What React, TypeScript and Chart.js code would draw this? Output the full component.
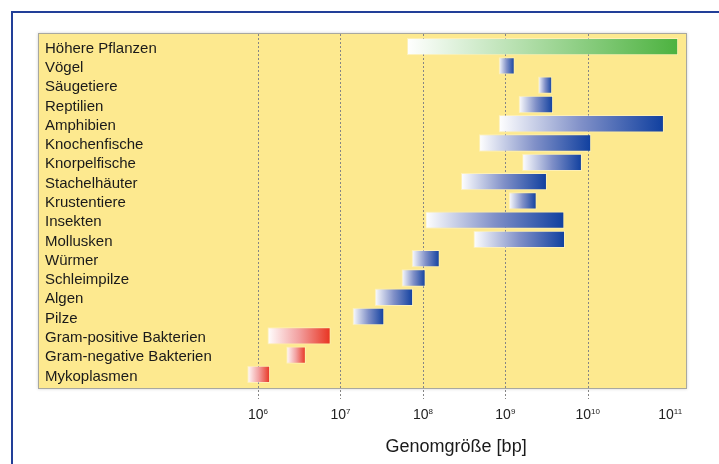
import React, { useEffect, useRef } from 'react';
import { Chart, registerables } from 'chart.js';

Chart.register(...registerables);

const categories = [
  'Höhere Pflanzen',
  'Vögel',
  'Säugetiere',
  'Reptilien',
  'Amphibien',
  'Knochenfische',
  'Knorpelfische',
  'Stachelhäuter',
  'Krustentiere',
  'Insekten',
  'Mollusken',
  'Würmer',
  'Schleimpilze',
  'Algen',
  'Pilze',
  'Gram-positive Bakterien',
  'Gram-negative Bakterien',
  'Mykoplasmen',
];

const rangeStart = [
  6.4e7, 8.3e8, 2.5e9, 1.45e9, 8.3e8, 4.8e8, 1.6e9, 2.9e8, 1.1e9,
  1.07e8, 4.1e8, 7.3e7, 5.5e7, 2.6e7, 1.4e7, 1.3e6, 2.2e6, 7.4e5,
];

const rangeEnd = [
  1.25e11, 1.3e9, 3.7e9, 3.8e9, 8.4e10, 1.1e10, 8.5e9, 3.2e9, 2.4e9,
  5.2e9, 5.3e9, 1.6e8, 1.08e8, 7.6e7, 3.4e7, 7.6e6, 3.8e6, 1.4e6,
];

const groups = [
  'plant', 'animal', 'animal', 'animal', 'animal', 'animal', 'animal', 'animal', 'animal',
  'animal', 'animal', 'animal', 'animal', 'animal', 'animal', 'bacteria', 'bacteria', 'bacteria',
];

const groupColors: Record<string, string> = {
  plant: '#4cb23f',
  animal: '#0f3f9f',
  bacteria: '#e8321f',
};

const groupMidColors: Record<string, string> = {
  plant: '#a6d99d',
  animal: '#8090c8',
  bacteria: '#f2a0a0',
};

const tickValues = [1e6, 1e7, 1e8, 1e9, 1e10, 1e11];
const tickExponents = ['6', '7', '8', '9', '10', '11'];
const gridValues = [1e6, 1e7, 1e8, 1e9, 1e10];
const axisMin = 2140;
const axisMax = 1.6e11;
const axisTitle = 'Genomgröße [bp]';

const FONT = '"Liberation Sans", Arial, Helvetica, sans-serif';

const decorPlugin = {
  id: 'decor',
  beforeDraw(chart: any) {
    const { ctx, chartArea, width, height } = chart;
    ctx.save();
    ctx.fillStyle = '#ffffff';
    ctx.fillRect(0, 0, width, height);
    // blue frame (top and left)
    ctx.strokeStyle = '#223f98';
    ctx.lineWidth = 2;
    ctx.beginPath();
    ctx.moveTo(width, 12);
    ctx.lineTo(12, 12);
    ctx.lineTo(12, height);
    ctx.stroke();
    // yellow plot box
    const top = chartArea.top - 4;
    const bottom = chartArea.bottom + 5;
    ctx.shadowColor = 'rgba(0,0,0,0.18)';
    ctx.shadowBlur = 3;
    ctx.fillStyle = '#fde98f';
    ctx.fillRect(chartArea.left, top, chartArea.right - chartArea.left, bottom - top);
    ctx.shadowColor = 'transparent';
    ctx.strokeStyle = '#a8a8a0';
    ctx.lineWidth = 1;
    ctx.strokeRect(chartArea.left + 0.5, top + 0.5, chartArea.right - chartArea.left - 1, bottom - top - 1);
    ctx.restore();
  },
  beforeDatasetsDraw(chart: any) {
    const { ctx, chartArea } = chart;
    const xs = chart.scales.x;
    const top = chartArea.top - 4;
    const bottom = chartArea.bottom + 5;
    ctx.save();
    ctx.strokeStyle = '#858585';
    ctx.lineWidth = 1;
    ctx.setLineDash([2, 2]);
    gridValues.forEach((v) => {
      const x = Math.round(xs.getPixelForValue(v)) + 0.5;
      ctx.beginPath();
      ctx.moveTo(x, top + 1);
      ctx.lineTo(x, bottom + 10);
      ctx.stroke();
    });
    ctx.restore();
  },
  afterDraw(chart: any) {
    const { ctx, chartArea } = chart;
    const xs = chart.scales.x;
    const baseY = chartArea.bottom + 35;
    ctx.save();
    ctx.fillStyle = '#222222';
    ctx.textBaseline = 'alphabetic';
    ctx.textAlign = 'left';
    tickValues.forEach((v, i) => {
      const x = xs.getPixelForValue(v);
      ctx.font = `14px ${FONT}`;
      const wBase = ctx.measureText('10').width;
      ctx.font = `8px ${FONT}`;
      const wSup = ctx.measureText(tickExponents[i]).width;
      const start = x - (wBase + wSup) / 2;
      ctx.font = `14px ${FONT}`;
      ctx.fillText('10', start, baseY);
      ctx.font = `8px ${FONT}`;
      ctx.fillText(tickExponents[i], start + wBase, baseY - 5);
    });
    const cx = (xs.getPixelForValue(tickValues[0]) + xs.getPixelForValue(tickValues[tickValues.length - 1])) / 2 - 8;
    ctx.font = `18px ${FONT}`;
    ctx.textAlign = 'center';
    ctx.fillStyle = '#1a1a1a';
    ctx.fillText(axisTitle, cx, chartArea.bottom + 68);
    ctx.restore();
  },
};

export default function App() {
  const canvasRef = useRef<HTMLCanvasElement | null>(null);

  useEffect(() => {
    document.body.style.margin = '0';
    const canvas = canvasRef.current;
    if (!canvas) return;

    const barData = rangeStart.map((s, i) => [s, rangeEnd[i]]);

    const chart = new Chart(canvas, {
      type: 'bar',
      data: {
        labels: categories,
        datasets: [
          {
            data: barData as any,
            backgroundColor: (c: any) => {
              const grp = groups[c.dataIndex] || 'animal';
              const col = groupColors[grp];
              const raw = c.raw as number[] | undefined;
              const xs = c.chart.scales?.x;
              if (!raw || !Array.isArray(raw) || !xs) return col;
              const x0 = xs.getPixelForValue(raw[0]);
              const x1 = xs.getPixelForValue(raw[1]);
              if (!isFinite(x0) || !isFinite(x1)) return col;
              const g = c.chart.ctx.createLinearGradient(x0, 0, x1, 0);
              g.addColorStop(0, '#ffffff');
              g.addColorStop(0.5, groupMidColors[grp]);
              g.addColorStop(1, col);
              return g;
            },
            borderColor: 'rgba(255,255,255,0.35)',
            borderWidth: 1,
            borderSkipped: false,
            categoryPercentage: 1,
            barPercentage: 0.9,
          },
        ],
      },
      options: {
        indexAxis: 'y',
        responsive: false,
        maintainAspectRatio: false,
        animation: false,
        layout: { padding: { left: 24, right: 32, top: 37, bottom: 80 } },
        plugins: {
          legend: { display: false },
          tooltip: { enabled: false },
        },
        scales: {
          x: {
            type: 'logarithmic',
            min: axisMin,
            max: axisMax,
            bounds: 'data',
            grid: { display: false, drawTicks: false },
            border: { display: false },
            ticks: { display: false },
          },
          y: {
            type: 'category',
            grid: { display: false, drawTicks: false },
            border: { display: false },
            ticks: {
              mirror: true,
              padding: 7,
              labelOffset: 2,
              color: '#1a1a1a',
              font: { family: FONT, size: 15 },
              autoSkip: false,
            },
          },
        },
      },
      plugins: [decorPlugin],
    });

    return () => chart.destroy();
  }, []);

  return (
    <div style={{ width: 719, height: 464, position: 'relative' }}>
      <canvas ref={canvasRef} width={719} height={464} style={{ display: 'block' }} />
    </div>
  );
}
